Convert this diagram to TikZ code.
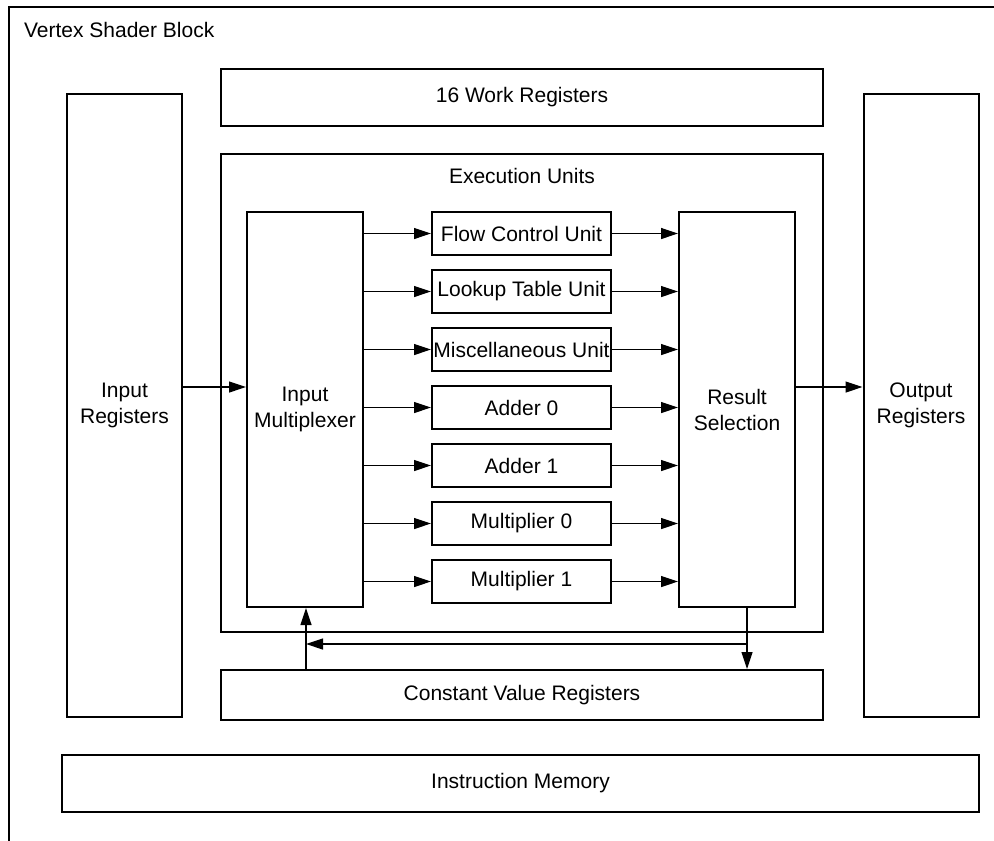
\documentclass[tikz,border=0pt]{standalone}
\usepackage{fontspec}
\setmainfont{Liberation Sans}
\usetikzlibrary{arrows.meta}

\tikzstyle{arrow} = [line width=0.6pt,-{Triangle[length=8.5pt,width=5.5pt]}]
\tikzstyle{block} = [
        rectangle,
        inner sep=0pt,
        align=center,
        line width=1pt,
        draw=black
    ]
\tikzstyle{regs} = [
        block,
        minimum width=57.5pt,
        minimum height=311.5pt
    ]
\tikzstyle{tall} = [
        block,
        minimum width=58pt,
        minimum height=197.5pt
    ]
\tikzstyle{unit} = [
        block,
        minimum width=89.5pt,
        minimum height=21.5pt
    ]
\tikzstyle{wide} = [
        block,
        minimum width=301pt
    ]

\begin{document}
\begin{tikzpicture}[x=0.5pt, y=-0.5pt, node distance=29pt, font=\fontsize{10.5}{13}\selectfont]
        \useasboundingbox (0,0) rectangle (994,840);
        \node [block, anchor=north west, minimum width=501pt, minimum height=422pt] (vsb) at (8,6) {};
        \node [anchor=west] (vsblbl) at (17,30) {Vertex Shader Block};
        \node [wide, minimum height=28.5pt] (work) at (522,97.5) {16 Work Registers};
        \node [regs] (inreg) at (124.5,405.5) {Input\\Registers};
        \node [regs] (outreg) at (921,405.5) {Output\\Registers};
        \node [wide, minimum height=239pt] (exec) at (522,393) {};
        \node (execlbl) at (522,176) {Execution Units};
        \node [tall] (mux) at (305,409.5) {Input\\Multiplexer};
        \node [tall] (res) at (737,409.5) {Result\\Selection};
        \node [unit] (flow) at (521.5,233.5) {Flow Control Unit};
        \node [unit, below of=flow] (lut) {Lookup Table Unit};
        \node [unit, below of=lut] (misc) {Miscellaneous Unit};
        \node [unit, below of=misc] (add0) {Adder 0};
        \node [unit, below of=add0] (add1) {Adder 1};
        \node [unit, below of=add1] (mul0) {Multiplier 0};
        \node [unit, below of=mul0] (mul1) {Multiplier 1};
        \node [wide, minimum height=25pt] (const) at (522,695) {Constant Value Registers};
        \node [block, minimum width=458.5pt, minimum height=28.5pt] (instr) at (520.5,783.5) {Instruction Memory};
        % lanes for the connectors
        \coordinate (iolvl) at (0,387);
        \coordinate (backlvl) at (0,644);
        \coordinate (uplane) at (306,0);
        \coordinate (dnlane) at (747,0);
        \draw [arrow] (inreg.east |- iolvl) -- (mux.west |- iolvl);
        \draw [arrow] (res.east |- iolvl) -- (outreg.west |- iolvl);
        \draw [arrow] (mux.east |- flow) -- (flow.west);
        \draw [arrow] (mux.east |- lut) -- (lut.west);
        \draw [arrow] (mux.east |- misc) -- (misc.west);
        \draw [arrow] (mux.east |- add0) -- (add0.west);
        \draw [arrow] (mux.east |- add1) -- (add1.west);
        \draw [arrow] (mux.east |- mul0) -- (mul0.west);
        \draw [arrow] (mux.east |- mul1) -- (mul1.west);
        \draw [arrow] (flow.east) -- (res.west |- flow);
        \draw [arrow] (lut.east) -- (res.west |- lut);
        \draw [arrow] (misc.east) -- (res.west |- misc);
        \draw [arrow] (add0.east) -- (res.west |- add0);
        \draw [arrow] (add1.east) -- (res.west |- add1);
        \draw [arrow] (mul0.east) -- (res.west |- mul0);
        \draw [arrow] (mul1.east) -- (res.west |- mul1);
        \draw [arrow] (res.south -| dnlane) -- (const.north -| dnlane);
        \draw [arrow] (dnlane |- backlvl) -- (uplane |- backlvl);
        \draw [arrow] (const.north -| uplane) -- (mux.south -| uplane);
    \end{tikzpicture}
\end{document}
